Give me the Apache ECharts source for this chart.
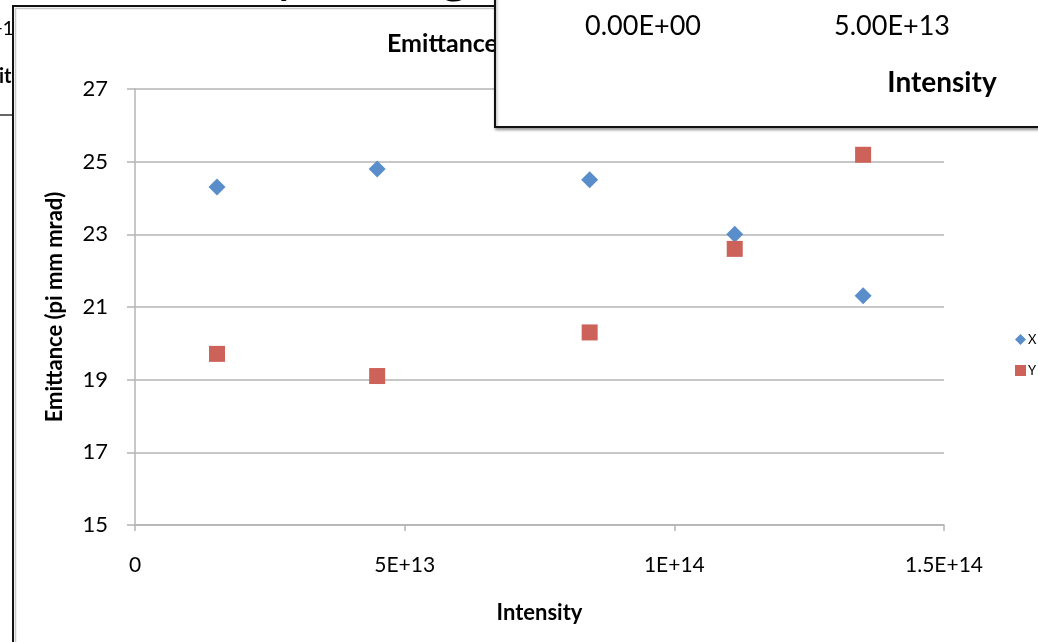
<!DOCTYPE html>
<html>
<head>
<meta charset="utf-8">
<script src="https://cdn.jsdelivr.net/npm/echarts@6/dist/echarts.min.js"></script>
<style>
  html, body { margin: 0; padding: 0; background: #ffffff; }
  #chart { width: 1038px; height: 642px; }
</style>
</head>
<body>
<div id="chart"></div>
<script>
// Beam emittance measured at several intensities
const intensity = [1.52e13, 4.49e13, 8.43e13, 1.112e14, 1.35e14];
const emitX = [24.30, 24.80, 24.50, 23.00, 21.31];
const emitY = [19.71, 19.10, 20.30, 22.60, 25.19];
const seriesNames = ['X', 'Y'];
const xTickLabels = { 0: '0', 5e13: '5E+13', 1e14: '1E+14', 1.5e14: '1.5E+14' };
const insetTickLabels = ['0.00E+00', '5.00E+13'];

const FONT = 'Lato, "Open Sans", sans-serif';
const BLUE = '#5A8ECB';
const RED = '#CC625A';
const GRID = '#b4b4b4';

const chart = echarts.init(document.getElementById('chart'), null, { renderer: 'canvas' });

const option = {
  backgroundColor: '#ffffff',
  animation: false,
  title: {
    text: 'Emittance vs Intensity',
    left: 382,
    top: 26,
    z: 3,
    textStyle: { fontFamily: FONT, fontSize: 25, fontWeight: 'bold', color: '#000' }
  },
  legend: {
    orient: 'vertical',
    left: 1010,
    top: 328,
    itemGap: 18,
    itemWidth: 11,
    itemHeight: 11,
    textStyle: { fontFamily: FONT, fontSize: 13, color: '#000', padding: [0, 0, 0, -3] },
    data: [
      { name: seriesNames[0], icon: 'diamond' },
      { name: seriesNames[1], icon: 'rect' }
    ]
  },
  grid: { left: 135, right: 94, top: 89, bottom: 117, containLabel: false },
  xAxis: {
    type: 'value',
    min: 0,
    max: 1.5e14,
    interval: 5e13,
    name: 'Intensity',
    nameLocation: 'middle',
    nameGap: 77,
    nameTextStyle: { fontFamily: FONT, fontSize: 22, fontWeight: 'bold', color: '#000' },
    axisLine: { show: true, onZero: false, lineStyle: { color: GRID, width: 1.5 } },
    axisTick: { show: true, inside: false, length: 6, lineStyle: { color: GRID, width: 1.5 } },
    splitLine: { show: false },
    axisLabel: {
      margin: 30,
      fontFamily: FONT, fontSize: 21, color: '#000',
      formatter: v => xTickLabels[v] !== undefined ? xTickLabels[v] : ''
    }
  },
  yAxis: {
    type: 'value',
    min: 15,
    max: 27,
    interval: 2,
    name: 'Emittance (pi mm mrad)',
    nameLocation: 'middle',
    nameGap: 69,
    nameTextStyle: { fontFamily: FONT, fontSize: 22, fontWeight: 'bold', color: '#000' },
    axisLine: { show: true, lineStyle: { color: GRID, width: 1.5 } },
    axisTick: { show: true, inside: false, length: 8, lineStyle: { color: GRID, width: 1.5 } },
    splitLine: { show: true, lineStyle: { color: GRID, width: 1.5 } },
    axisLabel: { margin: 27, fontFamily: FONT, fontSize: 22, color: '#000' }
  },
  series: [
    {
      name: seriesNames[0],
      type: 'scatter',
      symbol: 'diamond',
      symbolSize: 17,
      itemStyle: { color: BLUE, opacity: 1 },
      data: intensity.map((x, i) => [x, emitX[i]])
    },
    {
      name: seriesNames[1],
      type: 'scatter',
      symbol: 'rect',
      symbolSize: 16,
      itemStyle: { color: RED, opacity: 1 },
      data: intensity.map((x, i) => [x, emitY[i]])
    }
  ],
  graphic: [
    // chart sheet behind, visible along the left and top edges
    { type: 'text', z: 0, silent: true, left: -9, top: 19, style: { text: '+1', font: '20px ' + FONT, fill: '#000' } },
    { type: 'text', z: 0, silent: true, left: -1, top: 67, style: { text: 'it', font: 'bold 20px ' + FONT, fill: '#000' } },
    { type: 'line', z: 0, silent: true, shape: { x1: 0, y1: 115, x2: 13, y2: 115 }, style: { stroke: '#333', lineWidth: 1.5 } },
    { type: 'text', z: 0, silent: true, x: 274, y: -55, style: { text: 'y', font: '56px ' + FONT, fill: '#000' } },
    { type: 'text', z: 0, silent: true, x: 440, y: -55, style: { text: 'g', font: '56px ' + FONT, fill: '#000' } },
    // white sheet and frame of this chart
    {
      type: 'rect', z: 0, silent: true,
      shape: { x: 13, y: 6, width: 1200, height: 800 },
      style: { fill: '#ffffff', stroke: '#111', lineWidth: 2 }
    },
    {
      type: 'rect', z: 1, silent: true,
      shape: { x: 15.5, y: 8.5, width: 1200, height: 800 },
      style: { fill: 'none', stroke: '#c8c8c8', lineWidth: 1.5 }
    },
    // overlapping chart window in the top right corner
    {
      type: 'rect', z: 100, silent: true,
      shape: { x: 495, y: -10, width: 600, height: 137 },
      style: {
        fill: '#ffffff', stroke: '#111', lineWidth: 2,
        shadowColor: 'rgba(0,0,0,0.35)', shadowBlur: 3, shadowOffsetX: 1, shadowOffsetY: 2
      }
    },
    {
      type: 'text', z: 101, silent: true, x: 643, y: 26,
      style: { text: insetTickLabels[0], font: '27px ' + FONT, fill: '#000', textAlign: 'center', textVerticalAlign: 'middle' }
    },
    {
      type: 'text', z: 101, silent: true, x: 892, y: 26,
      style: { text: insetTickLabels[1], font: '27px ' + FONT, fill: '#000', textAlign: 'center', textVerticalAlign: 'middle' }
    },
    {
      type: 'text', z: 101, silent: true, x: 942, y: 83,
      style: { text: 'Intensity', font: 'bold 28px ' + FONT, fill: '#000', textAlign: 'center', textVerticalAlign: 'middle' }
    }
  ]
};

chart.setOption(option);
</script>
</body>
</html>
